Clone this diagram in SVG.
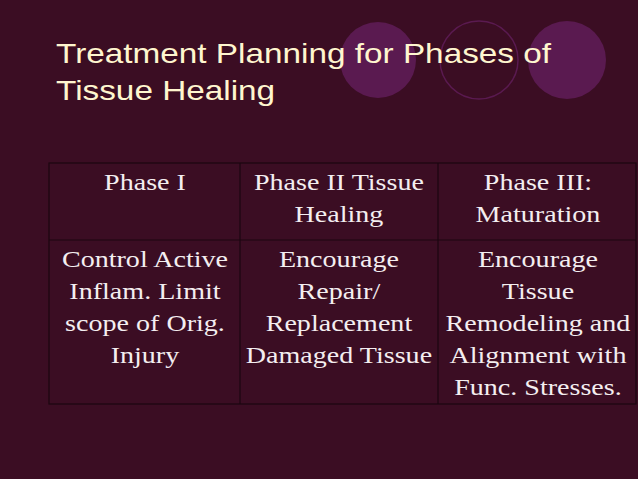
<svg xmlns="http://www.w3.org/2000/svg" width="638" height="479" viewBox="0 0 638 479">
<style>
.t{font-family:"Liberation Serif",serif;font-size:24px;fill:#f4eef0;text-anchor:middle}
.h{font-family:"Liberation Sans",sans-serif;font-size:28px;fill:#fff6cf}
.g{stroke:#1c0610;stroke-width:1.2;fill:none}
</style>
<rect width="638" height="479" fill="#3b0d23"/>
<g id="deco">
<circle cx="378" cy="60" r="38" fill="#5a1a50"/>
<circle cx="479" cy="60" r="39" fill="none" stroke="#5a1a50" stroke-width="1.5"/>
<circle cx="567" cy="60" r="39" fill="#5a1a50"/>
</g>
<g id="title" transform="scale(1.19,1)">
<text class="h" x="47.1" y="63">Treatment Planning for Phases of</text>
<text class="h" x="47.1" y="100">Tissue Healing</text>
</g>
<g id="grid" class="g">
<rect x="49" y="163" width="587" height="241"/>
<line x1="49" y1="240" x2="636" y2="240"/>
<line x1="240" y1="163" x2="240" y2="404"/>
<line x1="438" y1="163" x2="438" y2="404"/>
</g>
<g id="row1" transform="scale(1.17,1)">
<text class="t" x="123.9" y="190">Phase I</text>
<text class="t" x="289.7" y="190">Phase II Tissue</text>
<text class="t" x="289.7" y="222">Healing</text>
<text class="t" x="459.8" y="190">Phase III:</text>
<text class="t" x="459.8" y="222">Maturation</text>
</g>
<g id="row2" transform="scale(1.17,1)">
<text class="t" x="123.9" y="267">Control Active</text>
<text class="t" x="123.9" y="299">Inflam. Limit</text>
<text class="t" x="123.9" y="331">scope of Orig.</text>
<text class="t" x="123.9" y="363">Injury</text>
<text class="t" x="289.7" y="267">Encourage</text>
<text class="t" x="289.7" y="299">Repair/</text>
<text class="t" x="289.7" y="331">Replacement</text>
<text class="t" x="289.7" y="363">Damaged Tissue</text>
<text class="t" x="459.8" y="267">Encourage</text>
<text class="t" x="459.8" y="299">Tissue</text>
<text class="t" x="459.8" y="331">Remodeling and</text>
<text class="t" x="459.8" y="363">Alignment with</text>
<text class="t" x="459.8" y="395">Func. Stresses.</text>
</g>
</svg>
